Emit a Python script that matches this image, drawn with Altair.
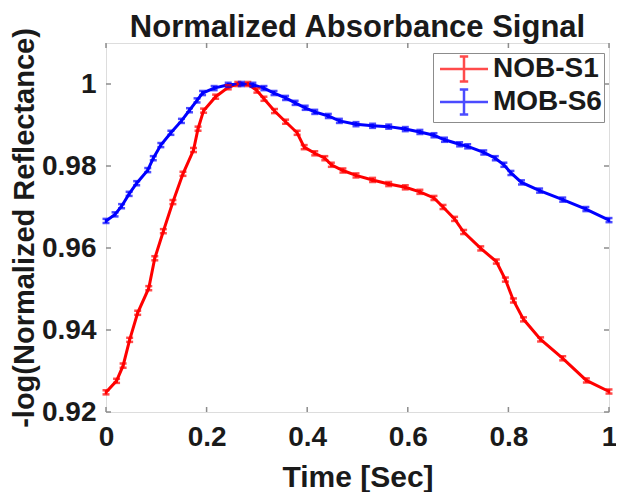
import altair as alt
import pandas as pd

SERIES = ["NOB-S1", "MOB-S6"]
COLORS = ["#ff0000", "#0000ff"]
ERR = [0.0005, 0.0005]

RED_X = [0, 0.021, 0.034, 0.047, 0.063, 0.085, 0.097, 0.114, 0.133, 0.153, 0.174, 0.183,
         0.194, 0.218, 0.243, 0.262, 0.282, 0.300, 0.314, 0.335, 0.357, 0.380, 0.394, 0.415,
         0.435, 0.448, 0.471, 0.497, 0.530, 0.562, 0.595, 0.624, 0.652, 0.670, 0.693, 0.711,
         0.745, 0.776, 0.794, 0.810, 0.830, 0.864, 0.908, 0.955, 1.0]
RED_Y = [0.9248, 0.9276, 0.9313, 0.9376, 0.9442, 0.9502, 0.9575, 0.9641, 0.9712, 0.9781, 0.9839, 0.9891,
         0.9935, 0.9969, 0.9992, 1.0, 1.0, 0.9984, 0.9964, 0.9934, 0.9908, 0.9881, 0.9846, 0.9831,
         0.9819, 0.9803, 0.9789, 0.9777, 0.9766, 0.9756, 0.9748, 0.9737, 0.9722, 0.9700, 0.9671, 0.9639,
         0.9599, 0.9567, 0.9523, 0.9472, 0.9426, 0.9377, 0.9331, 0.9277, 0.9250]

BLUE_X = [0, 0.018, 0.031, 0.046, 0.061, 0.083, 0.094, 0.109, 0.129, 0.150, 0.166, 0.181,
          0.192, 0.215, 0.243, 0.269, 0.292, 0.314, 0.334, 0.357, 0.376, 0.396, 0.415, 0.442,
          0.464, 0.497, 0.530, 0.562, 0.595, 0.624, 0.652, 0.673, 0.703, 0.719, 0.751, 0.774,
          0.791, 0.805, 0.826, 0.862, 0.908, 0.954, 1.0]
BLUE_Y = [0.9666, 0.9682, 0.9702, 0.9732, 0.9758, 0.9790, 0.9819, 0.9851, 0.9881, 0.9910, 0.9936, 0.9960,
          0.9978, 0.9990, 0.9998, 1.0, 0.9998, 0.9990, 0.9978, 0.9966, 0.9954, 0.9942, 0.9932, 0.9922,
          0.9910, 0.9902, 0.9898, 0.9896, 0.9890, 0.9883, 0.9875, 0.9864, 0.9853, 0.9848, 0.9833, 0.9819,
          0.9803, 0.9783, 0.9760, 0.9740, 0.9718, 0.9695, 0.9668]

X_TICKS = [0, 0.2, 0.4, 0.6, 0.8, 1.0]
Y_TICKS = [0.92, 0.94, 0.96, 0.98, 1.0]

rows = []
for name, xs_, ys_, e in zip(SERIES, [RED_X, BLUE_X], [RED_Y, BLUE_Y], ERR):
    for x, y in zip(xs_, ys_):
        rows.append(dict(series=name, t=x, v=y, lo=y - e, hi=y + e))
df = pd.DataFrame(rows)

W, H = 503, 369
FONT = "Liberation Sans"
TXT = "#1a1a1a"
AX = "#8c8c8c"

xsc = alt.Scale(domain=[0, 1], nice=False)
ysc = alt.Scale(domain=[0.92, 1.01], nice=False, zero=False)

legend = alt.Legend(
    title=None, orient="none", legendX=327, legendY=10,
    strokeColor=AX, fillColor="white", padding=2,
    labelFontSize=28, labelFont=FONT, labelFontWeight="bold", labelColor=TXT,
    symbolType="M-0.75,0H3.25M1.25,-1.05V1.05M0.9,-1.05H1.6M0.9,1.05H1.6",
    symbolSize=576, symbolStrokeWidth=2.5, symbolFillColor="transparent",
    labelOffset=30, rowPadding=-3,
)
color = alt.Color("series:N", scale=alt.Scale(domain=SERIES, range=COLORS), sort=SERIES, legend=legend)
color_nl = alt.Color("series:N", scale=alt.Scale(domain=SERIES, range=COLORS), sort=SERIES)

x_axis = alt.Axis(values=X_TICKS, format="~g", ticks=False, domain=False, grid=False,
                  labelFontSize=28, labelFont=FONT, labelFontWeight="bold", labelColor=TXT,
                  labelPadding=11, labelFlush=False,
                  titleFontSize=30, titleFont=FONT, titleFontWeight="bold", titleColor=TXT,
                  titlePadding=11)
y_axis = alt.Axis(values=Y_TICKS, format="~g", ticks=False, domain=False, grid=False,
                  labelFontSize=28, labelFont=FONT, labelFontWeight="bold", labelColor=TXT,
                  labelPadding=10, labelFlush=False,
                  titleFontSize=29, titleFont=FONT, titleFontWeight="bold", titleColor=TXT,
                  titlePadding=2)

base = alt.Chart(df)
lines = base.mark_line(strokeWidth=3).encode(
    x=alt.X("t:Q", scale=xsc, axis=x_axis, title="Time [Sec]"),
    y=alt.Y("v:Q", scale=ysc, axis=y_axis, title="-log(Normalized Reflectance)"),
    color=color,
)
bars = base.mark_rule(strokeWidth=2.5).encode(
    x=alt.X("t:Q"), y=alt.Y("lo:Q"), y2="hi:Q", color=color_nl)
cap_lo = base.mark_tick(orient="horizontal", size=7, thickness=2.5).encode(
    x=alt.X("t:Q"), y=alt.Y("lo:Q"), color=color_nl)
cap_hi = base.mark_tick(orient="horizontal", size=7, thickness=2.5).encode(
    x=alt.X("t:Q"), y=alt.Y("hi:Q"), color=color_nl)

xt = alt.Chart(pd.DataFrame({"t": X_TICKS}))
yt = alt.Chart(pd.DataFrame({"v": Y_TICKS}))
tick_b = xt.mark_rule(color=AX, strokeWidth=1.5).encode(x="t:Q", y=alt.value(H), y2=alt.value(H - 5))
tick_t = xt.mark_rule(color=AX, strokeWidth=1.5).encode(x="t:Q", y=alt.value(0), y2=alt.value(5))
tick_l = yt.mark_rule(color=AX, strokeWidth=1.5).encode(y="v:Q", x=alt.value(0), x2=alt.value(5))
tick_r = yt.mark_rule(color=AX, strokeWidth=1.5).encode(y="v:Q", x=alt.value(W), x2=alt.value(W - 5))

chart = alt.layer(tick_b, tick_t, tick_l, tick_r, lines, bars, cap_lo, cap_hi).properties(
    width=W, height=H,
    title=alt.TitleParams("Normalized Absorbance Signal", fontSize=31, font=FONT,
                          fontWeight="bold", color=TXT, offset=4, dy=20.5,
                          frame="group", anchor="middle"),
    autosize=alt.AutoSizeParams(type="none"),
    padding={"left": 98, "top": 35, "right": 7, "bottom": 80},
).configure_view(stroke=AX, strokeWidth=1.5).configure(background="white")

chart.save("out.html", embed_options={"renderer": "svg", "actions": False})
